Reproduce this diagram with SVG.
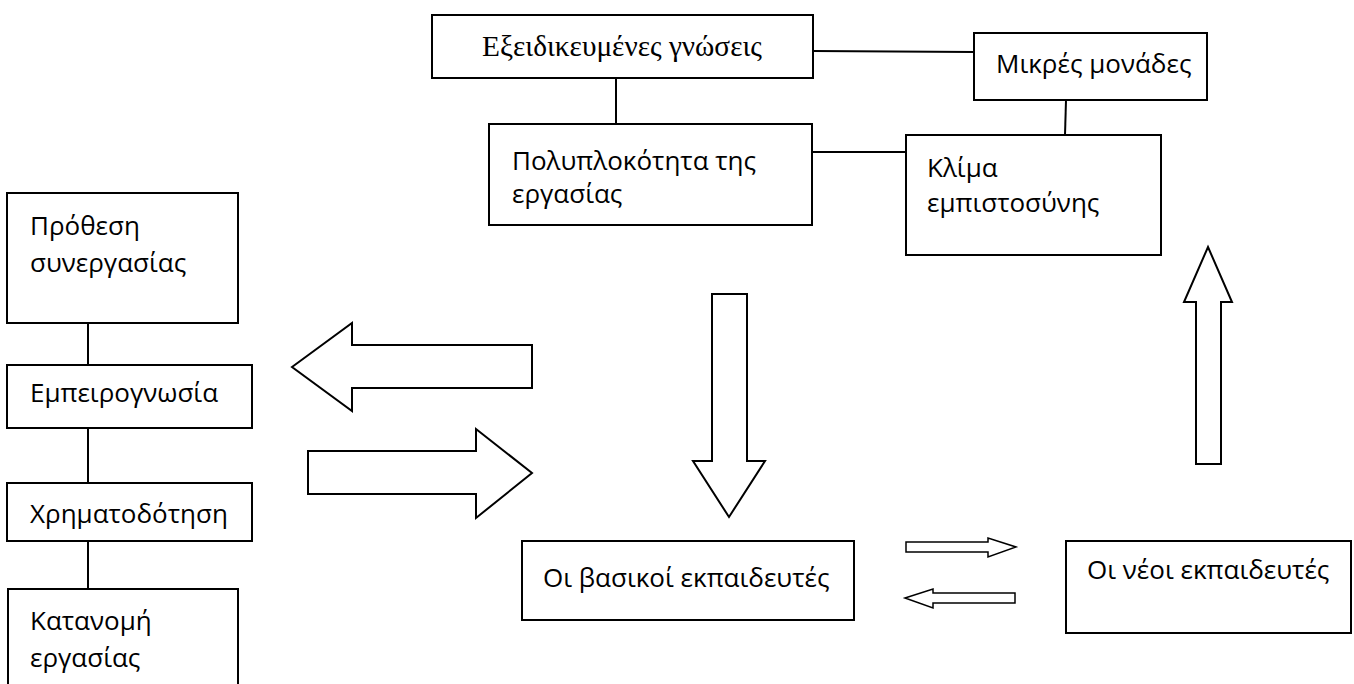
<svg xmlns="http://www.w3.org/2000/svg" width="1354" height="684" viewBox="0 0 1354 684">
<style>
.box{fill:#fff;stroke:#000;stroke-width:2}
.t{font-family:"Open Sans","Noto Sans","DejaVu Sans",sans-serif;font-size:26px;fill:#000}
.ts{font-family:"Liberation Serif","DejaVu Serif",serif;font-size:29.3px;fill:#000}
.ln{stroke:#000;stroke-width:2;fill:none}
.arr{fill:#fff;stroke:#000;stroke-width:2;stroke-linejoin:miter}
.sarr{fill:#fff;stroke:#000;stroke-width:1.5;stroke-linejoin:miter}
</style>
<rect width="1354" height="684" fill="#fff"/>
<g id="connectors">
<line class="ln" x1="616" y1="78" x2="616" y2="124"/>
<line class="ln" x1="813" y1="51" x2="974" y2="52"/>
<line class="ln" x1="812" y1="152" x2="906" y2="152"/>
<line class="ln" x1="1066" y1="100" x2="1065" y2="135"/>
<line class="ln" x1="88" y1="323" x2="88" y2="365"/>
<line class="ln" x1="88" y1="428" x2="88" y2="483"/>
<line class="ln" x1="88" y1="541" x2="88" y2="589"/>
<polygon class="arr" points="292,367 352,323 352,345 532,345 532,388 352,388 352,411"/>
<polygon class="arr" points="308,451 476,451 476,429 532,473 476,518 476,494 308,494"/>
<polygon class="arr" points="712,294 747,294 747,461 765,461 729,517 693,461 712,461"/>
<polygon class="arr" points="1208,247 1232,302 1221,302 1221,464 1196,464 1196,302 1184,302"/>
<polygon class="sarr" points="906,542 988,542 988,538 1016,547 988,557 988,552 906,552"/>
<polygon class="sarr" points="905,598 933,589 933,593 1015,593 1015,603 933,603 933,608"/>
</g>
<g id="n-exeidikevmenes">
<rect class="box" x="432" y="15" width="381" height="63"/>
<text class="ts" x="482" y="56">Εξειδικευμένες γνώσεις</text>
</g>
<g id="n-mikres">
<rect class="box" x="974" y="33" width="233" height="67"/>
<text class="t" x="996" y="73">Μικρές μονάδες</text>
</g>
<g id="n-polyplokotita">
<rect class="box" x="489" y="124" width="323" height="101"/>
<text class="t" x="512" y="170">Πολυπλοκότητα της</text>
<text class="t" x="512" y="203">εργασίας</text>
</g>
<g id="n-klima">
<rect class="box" x="906" y="135" width="255" height="120"/>
<text class="t" x="927" y="177">Κλίμα</text>
<text class="t" x="927" y="212">εμπιστοσύνης</text>
</g>
<g id="n-prothesi">
<rect class="box" x="7" y="193" width="231" height="130"/>
<text class="t" x="30" y="235">Πρόθεση</text>
<text class="t" x="30" y="272">συνεργασίας</text>
</g>
<g id="n-empeirognosia">
<rect class="box" x="7" y="365" width="245" height="63"/>
<text class="t" x="30" y="402">Εμπειρογνωσία</text>
</g>
<g id="n-chrimatodotisi">
<rect class="box" x="7" y="483" width="245" height="58"/>
<text class="t" x="30" y="523">Χρηματοδότηση</text>
</g>
<g id="n-katanomi">
<rect class="box" x="8" y="589" width="230" height="130"/>
<text class="t" x="30" y="630">Κατανομή</text>
<text class="t" x="30" y="667">εργασίας</text>
</g>
<g id="n-vasikoi">
<rect class="box" x="522" y="541" width="332" height="79"/>
<text class="t" x="543" y="587">Οι βασικοί εκπαιδευτές</text>
</g>
<g id="n-neoi">
<rect class="box" x="1066" y="541" width="285" height="92"/>
<text class="t" x="1087" y="579">Οι νέοι εκπαιδευτές</text>
</g>
</svg>
